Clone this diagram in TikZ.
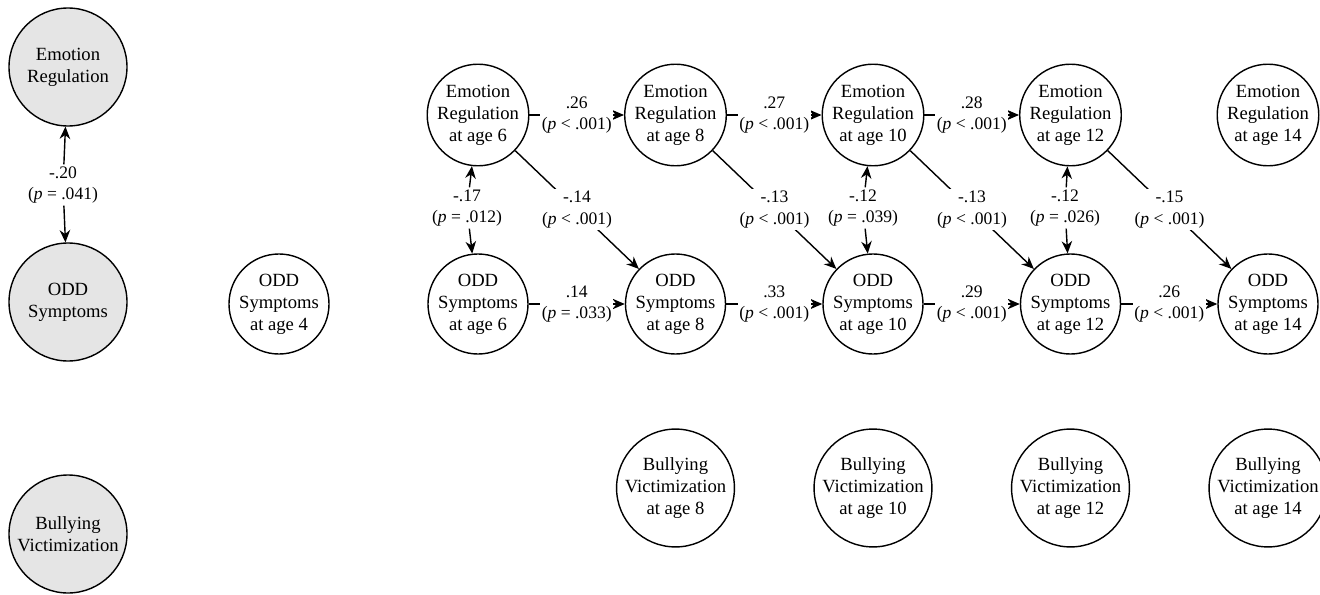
\documentclass[tikz,border=0pt]{standalone}
\usepackage{fontspec}
\setmainfont{Liberation Serif}
\usetikzlibrary{arrows.meta}
\begin{document}
\begin{tikzpicture}[x=2cm, y=2cm,
  trait/.style={circle, draw, fill=gray!20, line width=0.8pt, minimum size=2.36cm, inner sep=0pt, align=center, font=\fontsize{10.6}{12.5}\selectfont},
  wave/.style={circle, draw, line width=0.8pt, minimum size=1.9cm, inner sep=0pt, align=center, font=\fontsize{10.6}{12.5}\selectfont},
  coef/.style={fill=white, inner sep=1pt, align=center, font=\fontsize{10}{12.4}\selectfont},
  effect/.style={line width=0.8pt, -{Stealth[length=7pt, width=6pt]}}]
\useasboundingbox (0,0) rectangle (13.2,5.94);
% stable traits
\node[trait] (er) at (0.68,5.27) {Emotion\\Regulation};
\node[trait] (odd) at (0.68,2.92) {ODD\\Symptoms};
\node[trait] (bv) at (0.68,0.60) {Bullying\\Victimization};
\node[coef] (c0) at (0.63,4.09) {-.20\\(\textit{p} = .041)};
\draw[effect] (c0) -- (er);
\draw[effect] (c0) -- (odd);
% waves
\node[wave] (odd4) at (2.79,2.90) {ODD\\Symptoms\\at age 4};
\foreach \a/\x in {6/4.78, 8/6.755, 10/8.73, 12/10.705, 14/12.68} {
  \node[wave] (er\a) at (\x,4.79) {Emotion\\Regulation\\at age \a};
  \node[wave] (odd\a) at (\x,2.90) {ODD\\Symptoms\\at age \a};
}
\foreach \a/\x in {8/6.755, 10/8.73, 12/10.705, 14/12.68}
  \node[wave] (bv\a) at (\x,1.06) {Bullying\\Victimization\\at age \a};
% stability paths
\draw[effect] (er6) -- node[coef] {.26\\(\textit{p} < .001)} (er8);
\draw[effect] (er8) -- node[coef] {.27\\(\textit{p} < .001)} (er10);
\draw[effect] (er10) -- node[coef] {.28\\(\textit{p} < .001)} (er12);
\draw[effect] (odd6) -- node[coef] {.14\\(\textit{p} = .033)} (odd8);
\draw[effect] (odd8) -- node[coef] {.33\\(\textit{p} < .001)} (odd10);
\draw[effect] (odd10) -- node[coef] {.29\\(\textit{p} < .001)} (odd12);
\draw[effect] (odd12) -- node[coef] {.26\\(\textit{p} < .001)} (odd14);
% cross-lagged paths
\draw[effect] (er6) -- node[coef] {-.14\\(\textit{p} < .001)} (odd8);
\draw[effect] (er8) -- node[coef] {-.13\\(\textit{p} < .001)} (odd10);
\draw[effect] (er10) -- node[coef] {-.13\\(\textit{p} < .001)} (odd12);
\draw[effect] (er12) -- node[coef] {-.15\\(\textit{p} < .001)} (odd14);
% within-time covariances
\node[coef] (c6) at (4.67,3.86) {-.17\\(\textit{p} = .012)};
\draw[effect] (c6) -- (er6);
\draw[effect] (c6) -- (odd6);
\node[coef] (c10) at (8.63,3.86) {-.12\\(\textit{p} = .039)};
\draw[effect] (c10) -- (er10);
\draw[effect] (c10) -- (odd10);
\node[coef] (c12) at (10.65,3.86) {-.12\\(\textit{p} = .026)};
\draw[effect] (c12) -- (er12);
\draw[effect] (c12) -- (odd12);
\end{tikzpicture}
\end{document}
